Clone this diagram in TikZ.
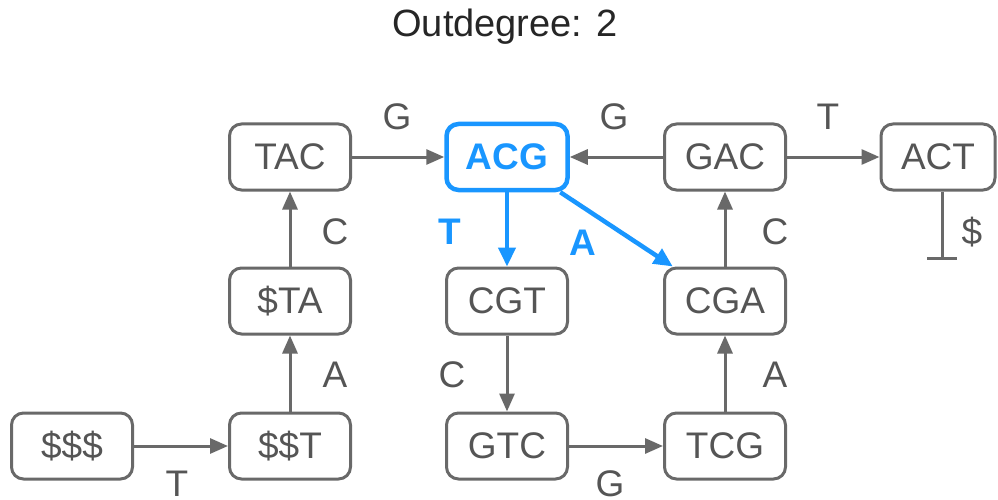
\documentclass[tikz,border=0pt]{standalone}
\usepackage{fontspec}
\setmainfont{Liberation Sans}
\usetikzlibrary{arrows.meta}
\definecolor{linegray}{RGB}{105,105,105}
\definecolor{txtgray}{RGB}{85,85,85}
\definecolor{hiblue}{RGB}{25,150,255}
\tikzset{
  seqbox/.style={draw=linegray, line width=3pt, rounded corners=12pt,
    minimum width=121pt, minimum height=66pt, inner sep=0pt,
    text=txtgray, font=\fontsize{37}{37}\selectfont},
  hibox/.style={seqbox, draw=hiblue, line width=4.5pt, text=hiblue,
    font=\fontsize{37}{37}\selectfont\bfseries},
  edge/.style={draw=linegray, line width=3pt, -{Triangle[length=18pt,width=15pt]}},
  hiedge/.style={draw=hiblue, line width=4.5pt, -{Triangle[length=19pt,width=17pt]}},
  lab/.style={text=txtgray, font=\fontsize{37}{37}\selectfont, inner sep=0pt},
  hilab/.style={text=hiblue, font=\fontsize{37}{37}\selectfont\bfseries, inner sep=0pt},
  title/.style={text=black!85, font=\fontsize{38}{38}\selectfont, inner sep=0pt}
}
\begin{document}
\begin{tikzpicture}[x=1pt,y=-1pt]
\useasboundingbox (0,0) rectangle (998,500);
\node[title] (ttl) at (505,27) {Outdegree: 2};
% nodes
\node[seqbox] (sss) at (72,446) {\$\$\$};
\node[seqbox] (sst) at (290,446) {\$\$T};
\node[seqbox] (sta) at (290,301) {\$TA};
\node[seqbox] (tac) at (290,157) {TAC};
\node[hibox]  (acg) at (507,157) {ACG};
\node[seqbox] (cgt) at (507,301) {CGT};
\node[seqbox] (gtc) at (507,446) {GTC};
\node[seqbox] (tcg) at (725,446) {TCG};
\node[seqbox] (cga) at (725,301) {CGA};
\node[seqbox] (gac) at (725,157) {GAC};
\node[seqbox, minimum width=114pt] (act) at (938,157) {ACT};
\coordinate (endpt) at (942,260);
% edges
\draw[edge] (sss) -- (sst);
\draw[edge] (sst) -- (sta);
\draw[edge] (sta) -- (tac);
\draw[edge] (tac) -- (acg);
\draw[edge] (gac) -- (acg);
\draw[edge] (gac) -- (act);
\draw[edge] (cga) -- (gac);
\draw[edge] (tcg) -- (cga);
\draw[edge] (gtc) -- (tcg);
\draw[edge] (cgt) -- (gtc);
\draw[hiedge] (acg) -- (cgt);
\draw[hiedge] (acg) -- (cga);
\draw[draw=linegray, line width=3pt, -{Bar[width=30pt]}] (act.south -| endpt) -- (endpt);
% labels
\node[lab] (l1) at (177,484) {T};
\node[lab] (l2) at (335,375) {A};
\node[lab] (l3) at (335,232) {C};
\node[lab] (l4) at (397,117) {G};
\node[lab] (l5) at (614,117) {G};
\node[lab] (l6) at (828,117) {T};
\node[lab] (l7) at (775,232) {C};
\node[lab] (l8) at (775,375) {A};
\node[lab] (l9) at (610,484) {G};
\node[lab] (l10) at (452,375) {C};
\node[lab] (l11) at (972,232) {\$};
\node[hilab] (l12) at (450,232) {T};
\node[hilab] (l13) at (583,243) {A};
\end{tikzpicture}
\end{document}
